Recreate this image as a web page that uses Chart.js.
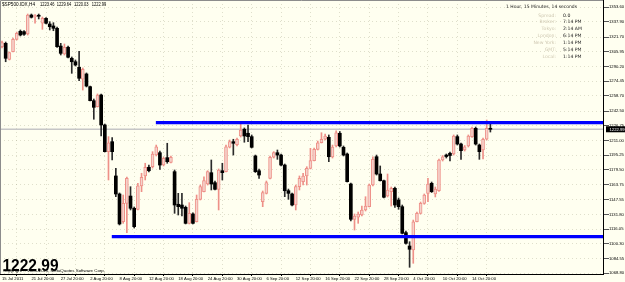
<!DOCTYPE html>
<html>
<head>
<meta charset="utf-8">
<script src="https://cdn.jsdelivr.net/npm/chart.js@4.4.0/dist/chart.umd.min.js"></script>
<style>
  html, body { margin: 0; padding: 0; background: #FFFFF0; }
  #wrap { width: 625px; height: 282px; }
</style>
</head>
<body>
<div id="wrap"><canvas id="chart" width="625" height="282"></canvas></div>
<script>
// H4 bars of $SP500.IDX, first bar 15 Jul 2011 20:00
var opens = [1311.4,1315.0,1297.9,1306.1,1319.3,1327.9,1327.5,1325.0,1345.3,1343.5,
  1344.6,1336.5,1341.8,1335.7,1333.6,1331.1,1312.1,1303.6,1310.8,1299.0,
  1295.3,1289.3,1276.5,1282.2,1268.6,1253.6,1247.2,1259.7,1227.6,1199.0,
  1209.7,1173.0,1153.7,1124.0,1143.7,1151.5,1138.4,1137.3,1162.3,1173.0,
  1182.3,1182.9,1195.4,1197.9,1184.7,1192.6,1187.6,1177.6,1142.7,1141.9,
  1139.4,1122.3,1132.3,1124.0,1148.0,1156.2,1164.4,1176.5,1165.8,1158.7,
  1178.6,1177.6,1203.7,1209.7,1206.5,1215.8,1223.0,1218.7,1215.1,1194.4,
  1178.6,1145.4,1154.4,1170.5,1193.0,1197.9,1195.4,1184.7,1157.2,1153.7,
  1141.9,1161.5,1166.9,1173.0,1181.2,1189.4,1201.5,1208.6,1212.3,1214.4,
  1193.3,1205.1,1218.7,1203.7,1196.5,1164.4,1126.6,1129.0,1131.2,1136.6,
  1140.1,1163.3,1193.6,1175.1,1167.9,1151.5,1156.2,1159.8,1147.3,1140.1,
  1112.3,1098.0,1093.7,1124.0,1133.0,1143.7,1154.4,1165.1,1153.7,1157.2,
  1190.1,1195.4,1197.3,1196.5,1215.1,1207.2,1200.8,1205.1,1215.1,1224.0,
  1206.1,1200.8,1212.3,1223.46];
var highs = [1317.5,1316.4,1305.7,1320.7,1327.1,1329.3,1328.7,1346.4,1346.4,1345.9,
  1346.4,1343.2,1342.7,1338.2,1337.1,1332.5,1315.0,1314.3,1312.1,1300.4,
  1297.2,1306.5,1288.6,1283.3,1269.3,1255.4,1260.8,1260.8,1228.6,1215.1,
  1214.0,1181.2,1154.8,1152.6,1171.9,1161.5,1139.8,1165.1,1175.9,1186.6,
  1184.7,1199.0,1206.1,1199.7,1193.3,1208.0,1194.4,1179.4,1154.4,1154.4,
  1140.8,1144.4,1133.4,1152.6,1163.3,1172.2,1178.6,1190.1,1167.6,1180.5,
  1186.6,1206.1,1211.5,1212.3,1213.6,1229.4,1224.4,1227.6,1216.9,1195.4,
  1180.5,1156.9,1167.6,1194.4,1199.0,1200.8,1196.5,1185.8,1159.0,1154.8,
  1163.3,1173.0,1175.9,1182.9,1202.6,1202.9,1210.4,1219.3,1217.9,1216.9,
  1206.1,1221.2,1220.6,1205.1,1197.6,1165.5,1132.3,1134.4,1140.8,1150.8,
  1164.4,1193.6,1195.4,1183.7,1168.7,1175.1,1161.2,1161.2,1149.4,1141.9,
  1114.1,1102.6,1125.8,1134.4,1145.1,1153.7,1170.5,1166.5,1161.2,1191.2,
  1194.9,1196.5,1198.7,1216.9,1216.9,1208.3,1205.6,1216.9,1225.4,1225.4,
  1207.2,1213.6,1232.9,1229.64];
var lows = [1310.0,1295.3,1297.2,1305.7,1318.6,1322.9,1323.4,1323.9,1342.1,1336.5,
  1341.1,1330.0,1335.7,1329.3,1328.5,1310.5,1302.5,1302.5,1299.3,1282.9,
  1290.7,1275.0,1265.0,1268.3,1253.3,1233.7,1246.8,1215.8,1198.7,1168.7,
  1190.1,1150.8,1120.5,1122.3,1112.3,1136.6,1117.3,1136.6,1156.2,1168.7,
  1177.2,1181.5,1194.4,1180.1,1183.7,1186.6,1186.9,1133.0,1131.2,1130.1,
  1121.6,1121.6,1121.6,1123.7,1147.3,1155.8,1163.3,1158.0,1158.0,1136.6,
  1168.7,1177.2,1203.0,1195.4,1205.1,1214.7,1209.1,1209.7,1203.0,1176.7,
  1170.5,1140.1,1153.7,1169.7,1192.2,1190.8,1183.7,1150.8,1148.0,1140.8,
  1136.6,1158.0,1163.3,1163.3,1180.5,1189.0,1200.8,1208.3,1211.5,1188.3,
  1192.2,1204.0,1204.0,1194.4,1166.5,1124.8,1115.1,1122.3,1130.1,1135.5,
  1139.8,1162.3,1174.0,1167.6,1149.4,1150.5,1140.8,1139.4,1137.3,1110.9,
  1100.1,1075.2,1079.5,1123.7,1132.3,1142.7,1145.4,1155.3,1150.5,1156.4,
  1189.0,1192.2,1189.0,1195.4,1206.1,1190.8,1199.7,1204.0,1214.2,1206.1,
  1190.8,1191.2,1211.5,1220.03];
var closes = [1315.7,1299.0,1305.0,1319.3,1325.7,1323.9,1324.7,1345.3,1342.9,1344.6,
  1344.0,1341.8,1336.5,1332.8,1331.1,1311.4,1304.3,1310.8,1300.1,1295.3,
  1291.8,1277.6,1287.2,1269.3,1253.6,1246.5,1259.7,1227.6,1199.0,1208.6,
  1199.0,1153.7,1121.6,1143.7,1170.5,1138.4,1118.7,1162.3,1171.6,1182.3,
  1178.6,1196.5,1204.3,1184.7,1191.9,1188.3,1193.0,1141.9,1140.1,1138.4,
  1122.3,1133.0,1122.3,1148.0,1161.5,1168.0,1177.6,1164.4,1158.7,1179.4,
  1176.5,1204.3,1209.7,1208.0,1212.3,1222.2,1215.8,1215.1,1203.7,1177.6,
  1174.0,1155.1,1165.8,1193.0,1197.9,1195.4,1184.7,1157.2,1154.4,1141.9,
  1161.5,1170.5,1173.0,1181.2,1189.4,1201.5,1208.6,1212.3,1215.8,1193.6,
  1204.0,1219.3,1205.1,1195.4,1166.9,1126.6,1130.1,1132.3,1136.6,1140.8,
  1163.3,1190.8,1175.1,1167.9,1150.2,1158.0,1159.8,1141.9,1140.1,1111.6,
  1100.9,1094.5,1124.0,1133.0,1143.7,1152.6,1164.4,1156.2,1159.0,1190.1,
  1193.6,1193.8,1194.9,1215.8,1207.2,1200.1,1204.3,1215.8,1224.0,1207.2,
  1199.0,1212.3,1224.0,1222.99];

// time axis labels and the bar each one sits on
var xLabels = ['15 Jul 2011', '21 Jul 20:00', '27 Jul 20:00', '2 Aug 20:00', '8 Aug 20:00',
  '12 Aug 20:00', '18 Aug 20:00', '24 Aug 20:00', '30 Aug 20:00', '6 Sep 20:00',
  '12 Sep 20:00', '16 Sep 20:00', '22 Sep 20:00', '28 Sep 20:00', '4 Oct 20:00',
  '10 Oct 20:00', '14 Oct 20:00'];
var xLabelBars = [0, 8, 16, 24, 32, 40, 48, 56, 64, 72, 80, 88, 96, 104, 112, 120, 128];

// price scale labels
var yTickValues = [1353.60, 1337.90, 1321.70, 1305.95, 1290.20, 1274.45, 1258.70, 1242.50,
  1226.75, 1211.00, 1195.25, 1179.50, 1163.75, 1147.55, 1131.80, 1116.05, 1100.30,
  1084.55, 1068.80];

// the two blue horizontal levels (price, first bar)
var levelPrices = [1230.2, 1108.0];
var levelFromBar = [41.9, 29.9];

var symbolName = '$SP500.IDX,H4';
var infoTitle = '1 Hour, 15 Minutes, 14 seconds';
var infoLabels = ['Spread:', 'Broker:', 'Tokyo:', 'London:', 'New York:', 'GMT:', 'Local:'];
var infoValues = ['0.0', '7:14 PM', '2:14 AM', '6:14 PM', '1:14 PM', '5:14 PM', '1:14 PM'];
var copyright = 'Copyright \u00A9 2001-2011, MetaQuotes Software Corp.';

var X_MIN = -0.545, X_MAX = 163.67;
var Y_MIN = 1068.03, Y_MAX = 1361.4;

var BULL_LINE = '#EE9088';
var BULL_FILL = '#F5D3CC';
var last = closes.length - 1;

function isBull(i) { return closes[i] > opens[i]; }

var bodyData = opens.map(function(o, i) { return {x: i, y: [o, closes[i]]}; });
var wickData = lows.map(function(l, i) { return {x: i, y: [l, highs[i]]}; });

function levelData(k) {
  return [{x: levelFromBar[k], y: levelPrices[k]}, {x: X_MAX, y: levelPrices[k]}];
}

var mtOverlay = {
  id: 'mtOverlay',
  beforeDraw: function(chart) {
    var ctx = chart.ctx;
    ctx.save();
    ctx.fillStyle = '#FFFFF0';
    ctx.fillRect(0, 0, chart.width, chart.height);
    ctx.restore();
  },
  afterDraw: function(chart) {
    var ctx = chart.ctx;
    var area = chart.chartArea;
    var yScale = chart.scales.y;
    ctx.save();

    // left and top edge of the frame
    ctx.strokeStyle = '#8c8c8c';
    ctx.lineWidth = 1;
    ctx.beginPath();
    ctx.moveTo(area.left + 0.5, area.bottom);
    ctx.lineTo(area.left + 0.5, area.top + 0.5);
    ctx.lineTo(area.right, area.top + 0.5);
    ctx.stroke();

    // header with symbol and OHLC of the last bar
    ctx.fillStyle = '#000';
    ctx.textBaseline = 'middle';
    ctx.textAlign = 'left';
    ctx.font = '4.7px "Liberation Sans"';
    var head = [symbolName, opens[last].toFixed(2), highs[last].toFixed(2),
      lows[last].toFixed(2), closes[last].toFixed(2)];
    var headX = [2, 40, 56.7, 74, 91.7];
    head.forEach(function(t, k) { ctx.fillText(t, headX[k], 5.2, k === 0 ? 33 : 14.5); });

    // info panel top right
    ctx.font = '4.6px "DejaVu Sans"';
    ctx.textAlign = 'right';
    ctx.fillStyle = '#1a1a1a';
    ctx.fillText(infoTitle, 577, 6.7, 71);
    infoLabels.forEach(function(t, k) {
      var y = 15.3 + k * 6.9;
      ctx.textAlign = 'right';
      ctx.fillStyle = '#cfc8b2';
      ctx.fillText(t, 556, y);
      ctx.textAlign = 'left';
      ctx.fillStyle = '#222';
      ctx.fillText(infoValues[k], 563, y);
    });

    // copyright line and big last price
    ctx.textAlign = 'left';
    ctx.fillStyle = '#000';
    ctx.font = '4.4px "Liberation Sans"';
    ctx.fillText(copyright, 3, 270.8, 112);
    ctx.textBaseline = 'alphabetic';
    ctx.font = 'bold 17px "Liberation Sans"';
    ctx.fillText(closes[last].toFixed(2), 2.5, 270.5, 56);

    // current price box on the price scale
    var py = yScale.getPixelForValue(closes[last]);
    ctx.fillStyle = '#000';
    ctx.fillRect(area.right + 3, py - 3, chart.width - area.right - 3, 6);
    ctx.fillStyle = '#fff';
    ctx.textBaseline = 'middle';
    ctx.font = '4.2px "Liberation Sans"';
    ctx.fillText(closes[last].toFixed(2), area.right + 6.5, py + 0.2);

    ctx.restore();
  }
};

var chart = new Chart(document.getElementById('chart'), {
  type: 'bar',
  data: {
    datasets: [
      {
        type: 'line', data: levelData(0), borderColor: '#0000FF', borderWidth: 3.2,
        pointRadius: 0, order: 0
      },
      {
        type: 'line', data: levelData(1), borderColor: '#0000FF', borderWidth: 3.2,
        pointRadius: 0, order: 0
      },
      {
        type: 'bar', data: bodyData, barThickness: 3, minBarLength: 1, grouped: false,
        borderSkipped: false, order: 1,
        backgroundColor: function(c) { return isBull(c.dataIndex) ? BULL_FILL : '#000'; },
        borderColor: function(c) { return isBull(c.dataIndex) ? BULL_LINE : '#000'; },
        borderWidth: function(c) { return isBull(c.dataIndex) ? 1 : 0; }
      },
      {
        type: 'bar', data: wickData, barThickness: 1, grouped: false, borderWidth: 0, order: 2,
        backgroundColor: function(c) { return isBull(c.dataIndex) ? BULL_LINE : '#2a2a2a'; }
      },
      {
        type: 'line', data: [{x: X_MIN, y: closes[last]}, {x: X_MAX, y: closes[last]}],
        borderColor: '#C6C6C6', borderWidth: 1.3, pointRadius: 0, order: 3
      }
    ]
  },
  options: {
    responsive: false,
    animation: false,
    devicePixelRatio: 1,
    layout: { padding: 0 },
    plugins: { legend: { display: false }, tooltip: { enabled: false } },
    scales: {
      x: {
        type: 'linear',
        offset: false,
        min: X_MIN,
        max: X_MAX,
        afterBuildTicks: function(scale) {
          scale.ticks = xLabelBars.map(function(b) { return {value: b}; });
        },
        afterFit: function(scale) {
          scale.height = 8;
          scale.paddingLeft = 0;
          scale.paddingRight = 0;
        },
        ticks: {
          autoSkip: false, maxRotation: 0, minRotation: 0, align: 'start', padding: 0,
          color: '#000', font: { family: 'Liberation Sans', size: 4.2 },
          callback: function(v, i) { return xLabels[i]; }
        },
        grid: { color: 'rgba(150,150,120,0.3)', tickColor: '#000', tickLength: 2 },
        border: { display: true, color: '#000', width: 1, dash: [1, 3] }
      },
      y: {
        type: 'linear',
        position: 'right',
        min: Y_MIN,
        max: Y_MAX,
        afterBuildTicks: function(scale) {
          scale.ticks = yTickValues.map(function(v) { return {value: v}; });
        },
        afterFit: function(scale) {
          scale.width = 22;
          scale.paddingTop = 0;
          scale.paddingBottom = 0;
        },
        ticks: {
          padding: 0, color: '#000', font: { family: 'Liberation Sans', size: 4.2 },
          callback: function(v) { return Number(v).toFixed(2); }
        },
        grid: { color: 'rgba(150,150,120,0.3)', tickColor: '#555', tickLength: 6 },
        border: { display: true, color: '#000', width: 1, dash: [1, 3] }
      }
    }
  },
  plugins: [mtOverlay]
});
</script>
</body>
</html>
